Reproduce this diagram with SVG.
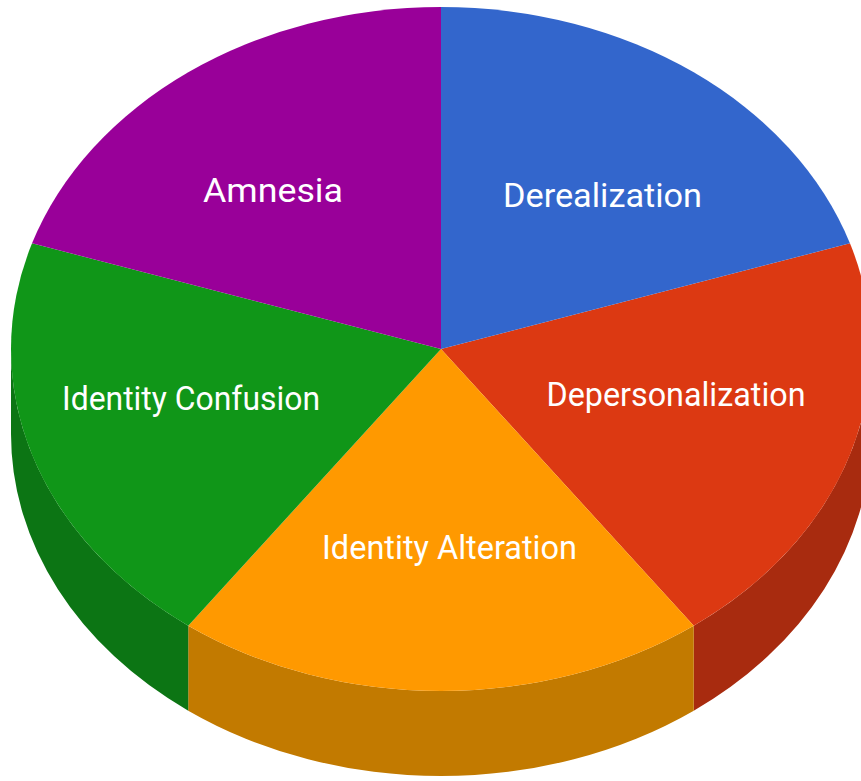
<svg xmlns="http://www.w3.org/2000/svg" width="861" height="781" viewBox="0 0 861 781">
<style>
.lbl{font-family:Roboto,"Liberation Sans",sans-serif;font-size:34px;fill:#ffffff;text-anchor:middle}
</style>
<rect width="861" height="781" fill="#ffffff"/>
<g id="slice-depersonalization">
<path d="M871 349 A430 342 0 0 1 693.75 625.68 L693.75 710.68 A430 342 0 0 0 871 434 Z" fill="#A82B0F"/>
<path d="M441 349 L849.95 243.32 A430 342 0 0 1 693.75 625.68 Z" fill="#DC3912"/>
<text class="lbl" x="676" y="406" textLength="259" lengthAdjust="spacingAndGlyphs">Depersonalization</text>
</g>
<g id="slice-identity-alteration">
<path d="M693.75 625.68 A430 342 0 0 1 188.25 625.68 L188.25 710.68 A430 342 0 0 0 693.75 710.68 Z" fill="#C27A00"/>
<path d="M441 349 L693.75 625.68 A430 342 0 0 1 188.25 625.68 Z" fill="#FF9900"/>
<text class="lbl" x="449.5" y="559" textLength="255" lengthAdjust="spacingAndGlyphs">Identity Alteration</text>
</g>
<g id="slice-identity-confusion">
<path d="M188.25 625.68 A430 342 0 0 1 11 349 L11 434 A430 342 0 0 0 188.25 710.68 Z" fill="#0C7514"/>
<path d="M441 349 L188.25 625.68 A430 342 0 0 1 32.05 243.32 Z" fill="#109618"/>
<text class="lbl" x="191" y="410" textLength="258" lengthAdjust="spacingAndGlyphs">Identity Confusion</text>
</g>
<g id="slice-amnesia">
<path d="M441 349 L32.05 243.32 A430 342 0 0 1 441 7 Z" fill="#990099"/>
<text class="lbl" x="273" y="202" textLength="140" lengthAdjust="spacingAndGlyphs">Amnesia</text>
</g>
<g id="slice-derealization">
<path d="M441 349 L441 7 A430 342 0 0 1 849.95 243.32 Z" fill="#3366CC"/>
<text class="lbl" x="602.5" y="207" textLength="199" lengthAdjust="spacingAndGlyphs">Derealization</text>
</g>
<g id="connectors"/>
</svg>
